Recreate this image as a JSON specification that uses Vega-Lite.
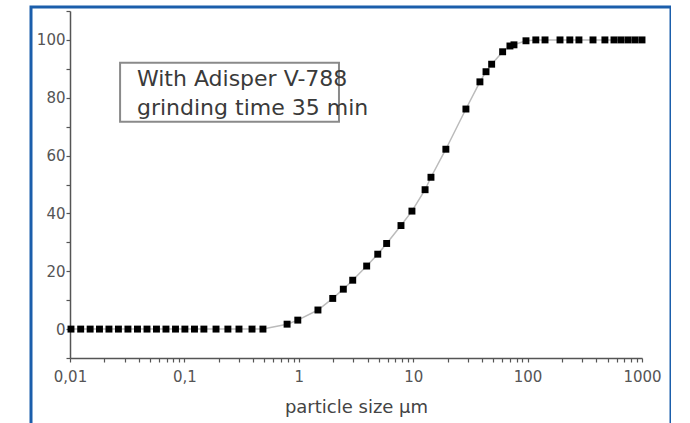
{
  "$schema": "https://vega.github.io/schema/vega-lite/v6.json",
  "width": 640,
  "height": 420,
  "autosize": {"type": "none"},
  "padding": {"left": 31, "top": 7, "right": 0, "bottom": 0},
  "background": "white",
  "config": {
    "view": {"stroke": "#1b5eab", "strokeWidth": 3},
    "axis": {
      "grid": false,
      "domainColor": "#555555",
      "domainWidth": 1.5,
      "tickColor": "#555555",
      "tickWidth": 1.2,
      "labelFont": "DejaVu Sans",
      "labelFontSize": 15,
      "labelColor": "#555555",
      "titleFont": "DejaVu Sans",
      "titleFontSize": 18,
      "titleFontWeight": "normal",
      "titleColor": "#444444"
    }
  },
  "data": {
    "values": [
      {"size": 0.0102, "pct": 0},
      {"size": 0.0124, "pct": 0},
      {"size": 0.0150, "pct": 0},
      {"size": 0.0181, "pct": 0},
      {"size": 0.0219, "pct": 0},
      {"size": 0.0265, "pct": 0},
      {"size": 0.0321, "pct": 0},
      {"size": 0.0389, "pct": 0},
      {"size": 0.0471, "pct": 0},
      {"size": 0.0570, "pct": 0},
      {"size": 0.0690, "pct": 0},
      {"size": 0.0836, "pct": 0},
      {"size": 0.101, "pct": 0},
      {"size": 0.1225, "pct": 0},
      {"size": 0.148, "pct": 0},
      {"size": 0.189, "pct": 0},
      {"size": 0.240, "pct": 0},
      {"size": 0.300, "pct": 0},
      {"size": 0.390, "pct": 0},
      {"size": 0.486, "pct": 0},
      {"size": 0.79, "pct": 1.7},
      {"size": 0.98, "pct": 3.1},
      {"size": 1.47, "pct": 6.6},
      {"size": 1.98, "pct": 10.6},
      {"size": 2.45, "pct": 13.8},
      {"size": 2.96, "pct": 16.9},
      {"size": 3.92, "pct": 21.8},
      {"size": 4.90, "pct": 25.9},
      {"size": 5.86, "pct": 29.6},
      {"size": 7.82, "pct": 35.8},
      {"size": 9.75, "pct": 40.8},
      {"size": 12.7, "pct": 48.2},
      {"size": 14.3, "pct": 52.5},
      {"size": 19.3, "pct": 62.2},
      {"size": 28.9, "pct": 76.1},
      {"size": 38.3, "pct": 85.5},
      {"size": 43.3, "pct": 89.0},
      {"size": 48.5, "pct": 91.6},
      {"size": 60.5, "pct": 95.9},
      {"size": 70.1, "pct": 97.9},
      {"size": 76.0, "pct": 98.3},
      {"size": 96.8, "pct": 99.7},
      {"size": 118, "pct": 100},
      {"size": 142, "pct": 100},
      {"size": 192, "pct": 100},
      {"size": 234, "pct": 100},
      {"size": 281, "pct": 100},
      {"size": 373, "pct": 100},
      {"size": 474, "pct": 100},
      {"size": 569, "pct": 100},
      {"size": 655, "pct": 100},
      {"size": 755, "pct": 100},
      {"size": 869, "pct": 100},
      {"size": 1000, "pct": 100}
    ]
  },
  "encoding": {
    "x": {
      "field": "size",
      "type": "quantitative",
      "scale": {"type": "log", "domain": [0.01, 1000], "range": [39, 611]},
      "axis": {
        "title": "particle size µm",
        "titlePadding": 14,
        "offset": -69,
        "tickSize": 4,
        "labelPadding": 7,
        "labelFlush": false,
        "labelOverlap": false,
        "values": [0.01, 0.02, 0.03, 0.04, 0.05, 0.06, 0.07, 0.08, 0.09, 0.1, 0.2, 0.3, 0.4, 0.5, 0.6, 0.7, 0.8, 0.9, 1, 2, 3, 4, 5, 6, 7, 8, 9, 10, 20, 30, 40, 50, 60, 70, 80, 90, 100, 200, 300, 400, 500, 600, 700, 800, 900, 1000],
        "labelExpr": "datum.value == 0.01 ? '0,01' : datum.value == 0.1 ? '0,1' : (datum.value == 1 || datum.value == 10 || datum.value == 100 || datum.value == 1000) ? format(datum.value, 'd') : ''"
      }
    },
    "y": {
      "field": "pct",
      "type": "quantitative",
      "scale": {"domain": [-10, 110], "range": [351, 4], "nice": false, "zero": false},
      "axis": {
        "title": null,
        "offset": -39,
        "tickSize": 4,
        "labelPadding": 1,
        "labelOverlap": false,
        "values": [-10, 0, 10, 20, 30, 40, 50, 60, 70, 80, 90, 100, 110],
        "labelExpr": "datum.value >= 0 && datum.value <= 100 && datum.value % 20 == 0 ? datum.label : ''"
      }
    }
  },
  "layer": [
    {"mark": {"type": "line", "color": "#bbbbbb", "strokeWidth": 1.5}},
    {"mark": {"type": "point", "shape": "square", "filled": true, "color": "#000000", "size": 48, "opacity": 1}},
    {
      "data": {"values": [{"bx": 0.0274, "bx2": 2.245, "by": 92.1, "by2": 71.7}]},
      "mark": {"type": "rect", "fill": "transparent", "stroke": "#8a8a8a", "strokeWidth": 2},
      "encoding": {
        "x": {"field": "bx", "type": "quantitative"},
        "x2": {"field": "bx2"},
        "y": {"field": "by", "type": "quantitative"},
        "y2": {"field": "by2"}
      }
    },
    {
      "data": {"values": [{"label": "With Adisper V-788", "lx": 0.0385, "ly": 86.6}, {"label": "grinding time 35 min", "lx": 0.0385, "ly": 76.6}]},
      "mark": {"type": "text", "align": "left", "baseline": "middle", "font": "DejaVu Sans", "fontSize": 22, "color": "#3a3a3a"},
      "encoding": {
        "x": {"field": "lx", "type": "quantitative"},
        "y": {"field": "ly", "type": "quantitative"},
        "text": {"field": "label"}
      }
    }
  ]
}
